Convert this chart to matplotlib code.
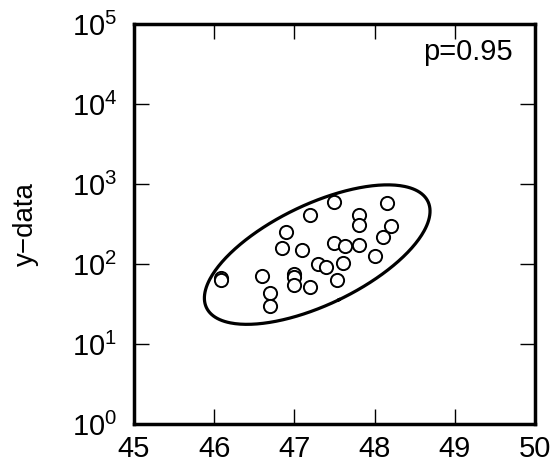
import numpy as np
import matplotlib
matplotlib.use("Agg")
import matplotlib.pyplot as plt

# data
x_data = [46.09, 46.09, 46.59, 46.70, 46.70, 46.90, 46.85, 47.10, 47.19,
          47.00, 47.00, 47.00, 47.19, 47.30, 47.39, 47.49, 47.49, 47.63,
          47.60, 47.53, 47.80, 47.80, 47.80, 48.00, 48.10, 48.15, 48.20]
y_data = [66, 63, 71, 43, 30, 249, 157, 150, 410,
          74, 69, 55, 51, 99, 92, 601, 181, 168,
          102, 64, 410, 307, 173, 127, 216, 584, 301]
p_level = 0.95
chi2_95 = 5.991  # chi-square, 2 dof, p=0.95

plt.rcParams['font.family'] = ['Liberation Sans', 'DejaVu Sans']
plt.rcParams['mathtext.fontset'] = 'custom'
plt.rcParams['mathtext.rm'] = 'Liberation Sans'

fig = plt.figure(figsize=(5.55, 4.68), dpi=100)
ax = fig.add_axes([0.2414, 0.094, 0.7226, 0.8547])

ax.plot(x_data, y_data, 'o', mfc='white', mec='black', ms=9.5, mew=1.4)

# confidence ellipse in (x, log10 y)
lx = np.array(x_data)
ly = np.log10(y_data)
mu = np.array([lx.mean(), ly.mean()])
cov = np.cov(lx, ly)
vals, vecs = np.linalg.eigh(cov)
t = np.linspace(0, 2*np.pi, 300)
circ = np.vstack([np.cos(t), np.sin(t)])
pts = vecs @ (np.sqrt(vals * chi2_95)[:, None] * circ) + mu[:, None]
ax.plot(pts[0], 10**pts[1], color='black', lw=2.3)

ax.set_yscale('log')
ax.set_xlim(45, 50)
ax.set_ylim(1, 1e5)
ax.set_xticks([45, 46, 47, 48, 49, 50])
ax.set_yticks([1, 10, 100, 1e3, 1e4, 1e5])
ax.minorticks_off()
ax.tick_params(direction='in', length=10.5, width=1, top=True, right=True,
               labelsize=21)
ax.tick_params(axis='x', pad=8)
ax.tick_params(axis='y', pad=12)
for s in ax.spines.values():
    s.set_linewidth(2.5)
ax.set_ylabel('y\u2212data', fontsize=20, labelpad=24)
ax.text(0.945, 0.965, f'p={p_level}', transform=ax.transAxes, ha='right', va='top',
        fontsize=21)

fig.savefig('out.png', dpi=100)
